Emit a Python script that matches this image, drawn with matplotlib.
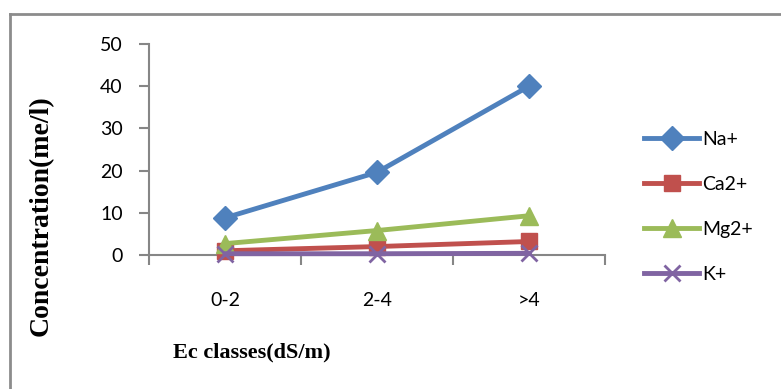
import matplotlib
matplotlib.use("Agg")
import matplotlib.pyplot as plt
from matplotlib.lines import Line2D

categories = ["0-2", "2-4", ">4"]
na = [8.8, 19.6, 40.0]
ca = [1.0, 2.0, 3.2]
mg = [2.7, 5.8, 9.3]
k = [0.3, 0.3, 0.4]
series_names = ["Na+", "Ca2+", "Mg2+", "K+"]
y_ticks = [0, 10, 20, 30, 40, 50]

W, H = 781, 389
fig = plt.figure(figsize=(W / 100, H / 100), dpi=100)
ax = fig.add_axes([149 / W, 1 - 255 / H, 456 / W, 211 / H])

x = list(range(len(categories)))
styles = [
    (na, "#4F81BD", "D", 12),
    (ca, "#C0504D", "s", 12),
    (mg, "#9BBB59", "^", 13),
    (k, "#8064A2", "x", 12),
]
for (vals, col, mk, ms), name in zip(styles, series_names):
    ax.plot(x, vals, color=col, lw=3.5, marker=mk, markersize=ms,
            markeredgewidth=2 if mk == "x" else 1, markerfacecolor=col,
            markeredgecolor=col, label=name, clip_on=False, zorder=3)

ax.set_xlim(-0.5, len(categories) - 0.5)
ax.set_ylim(0, 50)
ax.set_yticks(y_ticks)
ax.set_xticks(x)
ax.set_xticklabels(categories)
ax.set_xticks([i - 0.5 for i in range(len(categories) + 1)], minor=True)
ax.tick_params(axis="x", which="major", length=0, pad=27)
ax.tick_params(axis="x", which="minor", length=7, width=1.5, color="#868686", direction="out")
ax.tick_params(axis="y", length=7, width=1.5, color="#868686", pad=12)
for lab in ax.get_xticklabels() + ax.get_yticklabels():
    lab.set_fontfamily("Lato")
    lab.set_fontsize(14)
for s in ["top", "right"]:
    ax.spines[s].set_visible(False)
for s in ["left", "bottom"]:
    ax.spines[s].set_color("#868686")
    ax.spines[s].set_linewidth(1.5)
ax.patch.set_alpha(0)

fig.text(41 / W, 1 - 216 / H, "Concentration(me/l)", rotation=90, ha="center", va="center",
         fontfamily="Liberation Serif", fontweight="bold", fontsize=20)
fig.text(252 / W, 1 - 352 / H, "Ec classes(dS/m)", ha="center", va="center",
         fontfamily="Liberation Serif", fontweight="bold", fontsize=16)

leg = ax.legend(loc="center left", bbox_to_anchor=(644 / W, 1 - 207 / H),
                bbox_transform=fig.transFigure, frameon=False, borderpad=0,
                borderaxespad=0, handlelength=2.85, handletextpad=0.15,
                labelspacing=1.45, prop={"family": "Lato", "size": 14})

# outer border
fig.add_artist(Line2D([9.5 / W, 9.5 / W], [0, 1 - 13.5 / H], color="#8c8c8c", lw=2,
                      transform=fig.transFigure))
fig.add_artist(Line2D([9.5 / W, 1], [1 - 13.5 / H, 1 - 13.5 / H], color="#8c8c8c", lw=2,
                      transform=fig.transFigure))

fig.savefig("out.png", dpi=100)
